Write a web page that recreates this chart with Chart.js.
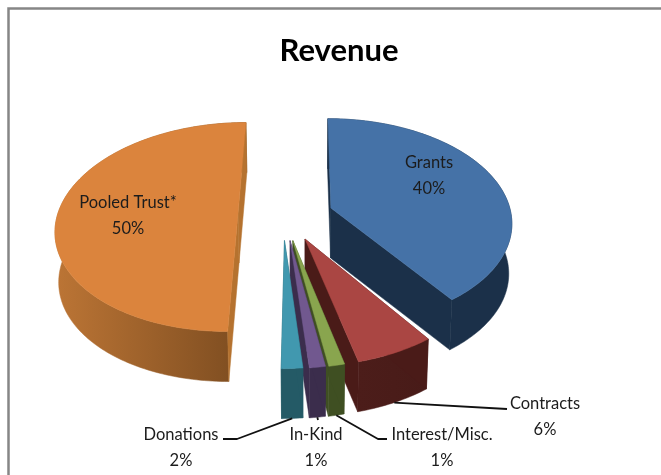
<!DOCTYPE html>
<html>
<head>
<meta charset="utf-8">
<script src="https://cdn.jsdelivr.net/npm/chart.js@4"></script>
<style>
html,body{margin:0;padding:0;background:#fff;}
canvas{display:block;filter:blur(0.45px);}
</style>
</head>
<body>
<canvas id="c" width="661" height="475"></canvas>
<script>
// ---- data ----
const categories = ["Grants","Contracts","Interest/Misc.","In-Kind","Donations","Pooled Trust*"];
const shareValues = [40,6,1.2,1.2,1.6,50];

// ---- style ----
const topColors  = ["#4572A7","#AA4643","#89A54E","#71588F","#4198AF","#DB843D"];
const rimStart   = ["#1B3049","#4C1D1A","#3F4F22","#3B2D4C","#245A66","#BC7535"];
const rimEnd     = ["#1B3049","#481B18","#3F4F22","#3B2D4C","#245A66","#7C4C20"];
const cutColors  = ["#1B3049","#4A1B18","#3F4F22","#3B2D4C","#245A66","#B5722F"];

// ---- layout: exploded offset of each slice on the pie's plane, projection, label boxes ----
const explodeX = [0.145,0,-0.065,-0.08,-0.11,-0.372];
const explodeY = [-0.049,0.245,0.26,0.26,0.26,0];
const projection = {x0:305,y0:213,radiusX:180,radiusY:102.6,persp:0.1344,depth:50,taper:0.985};
const labelX = [429,545,442,316,181,128];
const labelY = [163,404,435,435,435,203];
const leaderMid = [null,[507,409],[378,439],null,[237,439],null];
const leaderEnd = [null,[507,409],[387,439],[318,420],[223,439],null];
const leaderAt  = [null,0.5,0.5,0.5,0.5,null];

function project(u,v,low){
  const p=projection, w=1-p.persp*v;
  let x=p.radiusX*u/w, y=p.y0+p.radiusY*v/w;
  if(low){ x*=p.taper; y+=p.depth; }
  return [p.x0+x,y];
}
function polygon(ctx,pts){
  ctx.beginPath();
  pts.forEach((q,i)=> i?ctx.lineTo(q[0],q[1]):ctx.moveTo(q[0],q[1]));
  ctx.closePath();
}
function arcPoints(a0,a1,ox,oy,low){
  const n=Math.max(4,Math.ceil((a1-a0)/0.02)),pts=[];
  for(let i=0;i<=n;i++){
    const a=a0+(a1-a0)*i/n;
    pts.push(project(ox+Math.cos(a),oy+Math.sin(a),low));
  }
  return pts;
}
function paint(ctx,pts,color,stroke){
  polygon(ctx,pts);
  ctx.fillStyle=color; ctx.fill();
  ctx.strokeStyle=stroke||color; ctx.lineWidth=0.5; ctx.stroke();
}
const pie3d={
  id:'pie3d',
  beforeDatasetDraw(chart,args){
    const ctx=chart.ctx, arcs=chart.getDatasetMeta(args.index).data;
    // orange half first, then clockwise from Grants so nearer slices overlap
    const order=[5,0,1,2,3,4];
    ctx.save();
    order.forEach(i=>{
      const el=arcs[i], a0=el.startAngle, a1=el.endAngle, ox=explodeX[i], oy=explodeY[i];
      const apexT=project(ox,oy,false), apexB=project(ox,oy,true);
      const topArc=arcPoints(a0,a1,ox,oy,false), lowArc=arcPoints(a0,a1,ox,oy,true);
      const xs=topArc.map(q=>q[0]);
      const g=ctx.createLinearGradient(Math.min(...xs),0,Math.max(...xs),0);
      g.addColorStop(0,rimStart[i]); g.addColorStop(1,rimEnd[i]);
      paint(ctx,topArc.concat(lowArc.slice().reverse()),g);
      const lastT=topArc[topArc.length-1], lastB=lowArc[lowArc.length-1];
      paint(ctx,[apexT,topArc[0],lowArc[0],apexB],cutColors[i]);
      paint(ctx,[apexT,lastT,lastB,apexB],cutColors[i]);
      paint(ctx,[apexT].concat(topArc),topColors[i]);
    });
    ctx.restore();
    return false;
  },
  afterDraw(chart){
    const ctx=chart.ctx, arcs=chart.getDatasetMeta(0).data;
    ctx.save();
    // frame
    ctx.strokeStyle="#868686"; ctx.lineWidth=2.5;
    ctx.beginPath(); ctx.moveTo(8.5,475); ctx.lineTo(8.5,8.5); ctx.lineTo(661,8.5); ctx.stroke();
    // leader lines
    ctx.strokeStyle="#111"; ctx.lineWidth=1.8; ctx.lineJoin="round";
    categories.forEach((c,i)=>{
      if(!leaderEnd[i]) return;
      const el=arcs[i], a=el.startAngle+(el.endAngle-el.startAngle)*leaderAt[i];
      const s=project(explodeX[i]+Math.cos(a),explodeY[i]+Math.sin(a),true);
      ctx.beginPath(); ctx.moveTo(s[0],s[1]);
      if(leaderMid[i]) ctx.lineTo(leaderMid[i][0],leaderMid[i][1]);
      ctx.lineTo(leaderEnd[i][0],leaderEnd[i][1]);
      ctx.stroke();
    });
    // labels
    ctx.fillStyle="#1c1c1c"; ctx.textAlign="center"; ctx.textBaseline="middle";
    ctx.font="16.5px Lato, 'Open Sans', sans-serif";
    const total=shareValues.reduce((s,v)=>s+v,0);
    categories.forEach((c,i)=>{
      ctx.fillText(c,labelX[i],labelY[i]);
      ctx.fillText(Math.round(shareValues[i]/total*100)+"%",labelX[i],labelY[i]+26);
    });
    ctx.restore();
  }
};
new Chart(document.getElementById('c'),{
  type:'pie',
  data:{labels:categories,datasets:[{data:shareValues,backgroundColor:topColors,borderWidth:0}]},
  options:{
    responsive:false,
    animation:false,
    rotation:0,
    layout:{padding:{left:17}},
    plugins:{
      legend:{display:false},
      tooltip:{enabled:false},
      title:{display:true,text:"Revenue",color:"#000",
        font:{family:"Lato, 'Open Sans', sans-serif",size:31,weight:"bold"},
        padding:{top:32,bottom:10}}
    }
  },
  plugins:[pie3d]
});
</script>
</body>
</html>
